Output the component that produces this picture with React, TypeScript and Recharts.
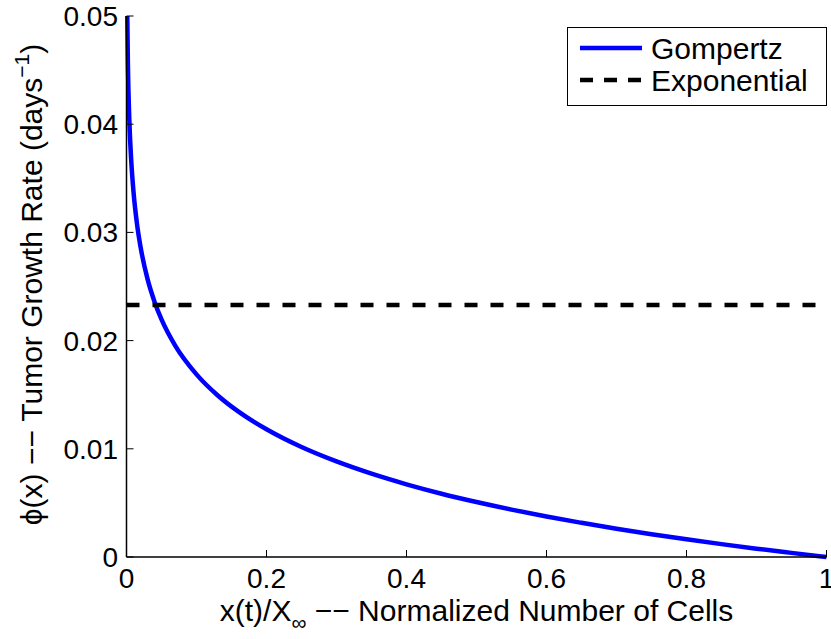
import { LineChart, Line, XAxis, YAxis, Legend } from 'recharts';

// values
const xTicks = [0, 0.2, 0.4, 0.6, 0.8, 1];
const yTicks = [0, 0.01, 0.02, 0.03, 0.04, 0.05];
const legendOrder = ['Gompertz', 'Exponential'];

const cellFraction = [
  0.0011, 0.002, 0.004, 0.007, 0.01, 0.015, 0.02, 0.03, 0.04, 0.05, 0.07, 0.1, 0.13, 0.16, 0.2,
  0.25, 0.3, 0.35, 0.4, 0.45, 0.5, 0.55, 0.6, 0.65, 0.7, 0.75, 0.8, 0.85, 0.9, 0.95, 1.0,
];
const gompertzRate = [
  0.05, 0.04555, 0.04047, 0.03637, 0.03376, 0.03078, 0.02868, 0.0257, 0.0236, 0.02196, 0.01949,
  0.01688, 0.01495, 0.01343, 0.0118, 0.01016, 0.00883, 0.0077, 0.00672, 0.00585, 0.00508, 0.00438,
  0.00374, 0.00316, 0.00261, 0.00211, 0.00164, 0.00119, 0.00077, 0.00038, 0,
];
const exponentialX = [0, 1];
const exponentialRate = [0.0233, 0.0233];

const gompertzData = cellFraction.map((x, i) => ({ x, rate: gompertzRate[i] }));
const exponentialData = exponentialX.map((x, i) => ({ x, rate: exponentialRate[i] }));

const FONT = '"Liberation Sans", Arial, Helvetica, sans-serif';
const TICK_STYLE = { fontSize: 28, fill: '#000', fontFamily: FONT };
const AXIS_LINE = { stroke: '#000', strokeWidth: 1.5 };
const TICK_LINE = { stroke: '#000', strokeWidth: 1 };
const blank = () => '';

function XTitle(props: any) {
  const vb = props.viewBox || { x: 126.5, y: 557, width: 700 };
  const cx = vb.x + vb.width / 2;
  return (
    <text x={cx} y={621} textAnchor="middle" fontSize={30} fontFamily={FONT} fill="#000">
      x(t)/X
      <tspan fontSize={21} dy={9}>∞</tspan>
      <tspan dy={-9}> −− Normalized Number of Cells</tspan>
    </text>
  );
}

function YTitle(props: any) {
  const vb = props.viewBox || { y: 16, height: 541 };
  const cy = vb.y + vb.height / 2 - 2;
  return (
    <text
      x={42}
      y={cy}
      textAnchor="middle"
      fontSize={30}
      fontFamily={FONT}
      fill="#000"
      transform={`rotate(-90, 42, ${cy})`}
    >
      ϕ(x) −− Tumor Growth Rate (days
      <tspan fontSize={21} dy={-13}>−1</tspan>
      <tspan dy={13}>)</tspan>
    </text>
  );
}

function LegendBox(props: any) {
  const items = [...(props.payload || [])].sort(
    (a: any, b: any) => legendOrder.indexOf(a.value) - legendOrder.indexOf(b.value),
  );
  return (
    <svg width={260} height={79} style={{ display: 'block' }}>
      <rect x={0.5} y={0.5} width={259} height={78} fill="#fff" stroke="#000" strokeWidth={1} />
      {items.map((item: any, i: number) => {
        const cy = 21 + i * 32;
        return (
          <g key={item.value}>
            <line
              x1={13}
              x2={75}
              y1={cy}
              y2={cy}
              stroke={item.color}
              strokeWidth={4.5}
              strokeDasharray={item.payload?.strokeDasharray ? '13 11' : undefined}
            />
            <text x={84} y={cy + 11} fontSize={30} fontFamily={FONT} fill="#000">
              {item.value}
            </text>
          </g>
        );
      })}
    </svg>
  );
}

export default function App() {
  return (
    <div style={{ position: 'absolute', left: 0, top: 0, background: '#fff' }}>
      <LineChart width={831} height={639} margin={{ top: 16, right: 4.5, bottom: 0, left: 0 }}>
        <XAxis
          xAxisId="bottom"
          type="number"
          dataKey="x"
          domain={[0, 1]}
          ticks={xTicks}
          interval={0}
          height={82}
          tick={TICK_STYLE}
          tickSize={-7}
          tickMargin={18}
          axisLine={AXIS_LINE}
          tickLine={TICK_LINE}
          label={<XTitle />}
        />
        <XAxis
          xAxisId="top"
          orientation="top"
          type="number"
          dataKey="x"
          domain={[0, 1]}
          ticks={xTicks}
          interval={0}
          height={0}
          tickSize={-7}
          tickFormatter={blank}
          axisLine={AXIS_LINE}
          tickLine={TICK_LINE}
        />
        <YAxis
          yAxisId="left"
          type="number"
          domain={[0, 0.05]}
          ticks={yTicks}
          interval={0}
          width={126.5}
          tick={TICK_STYLE}
          tickSize={-7}
          tickMargin={15.5}
          axisLine={AXIS_LINE}
          tickLine={TICK_LINE}
          label={<YTitle />}
        />
        <YAxis
          yAxisId="right"
          orientation="right"
          type="number"
          domain={[0, 0.05]}
          ticks={yTicks}
          interval={0}
          width={0}
          tickSize={-7}
          tickFormatter={blank}
          axisLine={AXIS_LINE}
          tickLine={TICK_LINE}
        />
        <Legend
          layout="horizontal"
          verticalAlign="middle"
          align="center"
          content={<LegendBox />}
          wrapperStyle={{ left: 567, top: 27, width: 260, height: 79 }}
        />
        <Line
          xAxisId="bottom"
          yAxisId="left"
          data={gompertzData}
          dataKey="rate"
          name="Gompertz"
          type="monotone"
          stroke="#0000ff"
          strokeWidth={4.5}
          dot={false}
          activeDot={false}
          isAnimationActive={false}
        />
        <Line
          xAxisId="bottom"
          yAxisId="left"
          data={exponentialData}
          dataKey="rate"
          name="Exponential"
          type="linear"
          stroke="#000"
          strokeWidth={4.5}
          strokeDasharray="13 13"
          dot={false}
          activeDot={false}
          isAnimationActive={false}
        />
      </LineChart>
    </div>
  );
}
